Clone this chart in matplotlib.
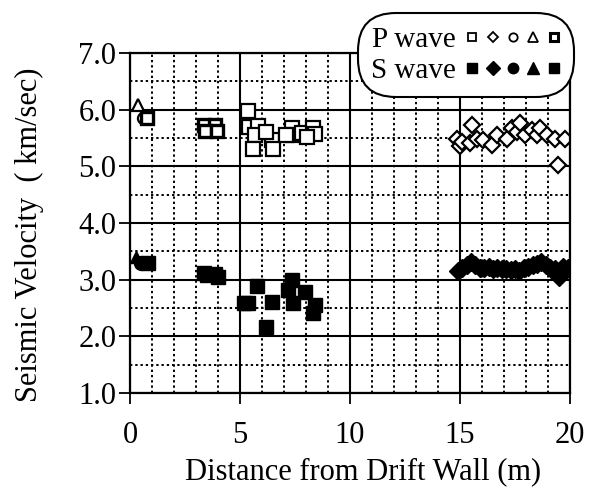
import matplotlib
matplotlib.use("Agg")
import matplotlib.pyplot as plt
from matplotlib.lines import Line2D
from matplotlib.legend_handler import HandlerTuple
from matplotlib.ticker import MultipleLocator, FormatStrFormatter

plt.rcParams["font.family"] = ["Liberation Serif", "DejaVu Serif"]

# ---- data (distance m, velocity km/s) ----
p_sq_x = [5.38, 5.41, 5.83, 5.68, 6.44, 5.6, 6.52, 7.35, 7.42, 7.8, 8.33, 8.41, 8.03, 6.2, 7.1]
p_sq_v = [5.97, 5.70, 5.71, 5.55, 5.46, 5.30, 5.30, 5.67, 5.55, 5.58, 5.67, 5.57, 5.52, 5.60, 5.55]
p_dia_x = [14.85, 15.0, 15.08, 15.45, 15.53, 15.76, 16.06, 16.44, 16.67, 17.12, 17.35, 17.58,
           17.73, 17.95, 18.26, 18.49, 18.64, 18.94, 19.32, 19.47, 19.77]
p_dia_v = [5.49, 5.35, 5.43, 5.41, 5.73, 5.49, 5.46, 5.38, 5.55, 5.49, 5.67, 5.61,
           5.76, 5.55, 5.64, 5.55, 5.67, 5.55, 5.49, 5.02, 5.49]
p_cir_x, p_cir_v = [0.6], [5.85]
p_tri_x, p_tri_v = [0.35], [6.08]
p_sq2_x = [0.75, 3.35, 3.85, 3.4, 3.95]
p_sq2_v = [5.85, 5.73, 5.73, 5.62, 5.62]

s_sq_x = [5.2, 5.38, 5.79, 6.44, 6.18, 7.35, 7.42, 7.95, 8.41, 8.33, 7.18]
s_sq_v = [2.58, 2.58, 2.88, 2.61, 2.17, 2.99, 2.58, 2.79, 2.55, 2.41, 2.82]
s_dia_x = [14.9, 15.1, 15.3, 15.5, 15.7, 15.9, 16.1, 16.3, 16.5, 16.7, 16.9, 17.1, 17.3,
           17.5, 17.7, 17.9, 18.1, 18.3, 18.5, 18.7, 18.9, 19.1, 19.3, 19.5, 19.7, 19.9]
s_dia_v = [3.15, 3.2, 3.25, 3.32, 3.25, 3.2, 3.2, 3.22, 3.18, 3.2, 3.18, 3.18, 3.17,
           3.18, 3.15, 3.2, 3.22, 3.25, 3.28, 3.32, 3.25, 3.2, 3.18, 3.05, 3.22, 3.2]
s_cir_x, s_cir_v = [0.5], [3.3]
s_tri_x, s_tri_v = [0.25], [3.4]
s_sq2_x = [0.8, 3.35, 3.85, 3.5, 4.0]
s_sq2_v = [3.3, 3.12, 3.1, 3.08, 3.05]

x_ticks = [0, 5, 10, 15, 20]
y_ticks = [1.0, 2.0, 3.0, 4.0, 5.0, 6.0, 7.0]

fig = plt.figure(figsize=(6.0, 4.94), dpi=100)
ax = fig.add_axes([0.2167, 0.2045, 0.7333, 0.6882])

open_kw = dict(ls="none", mfc="white", mec="black", mew=1.6)
fill_kw = dict(ls="none", mfc="black", mec="black", mew=1.0)

ax.plot(p_sq_x, p_sq_v, "s", ms=9.5, **open_kw)
ax.plot(p_dia_x, p_dia_v, "D", ms=8, **open_kw)
ax.plot(p_cir_x, p_cir_v, "o", ms=8, **open_kw)
ax.plot(p_tri_x, p_tri_v, "^", ms=8, **open_kw)
ax.plot(p_sq2_x, p_sq2_v, "s", ms=8.5, ls="none", mfc="white", mec="black", mew=2.4)

ax.plot(s_sq_x, s_sq_v, "s", ms=10.5, **fill_kw)
ax.plot(s_dia_x, s_dia_v, "D", ms=9.5, **fill_kw)
ax.plot(s_cir_x, s_cir_v, "o", ms=10, **fill_kw)
ax.plot(s_tri_x, s_tri_v, "^", ms=9, **fill_kw)
ax.plot(s_sq2_x, s_sq2_v, "s", ms=10, **fill_kw)

ax.set_xlim(0, 20)
ax.set_ylim(1.0, 7.0)
ax.set_xticks(x_ticks)
ax.set_yticks(y_ticks)
ax.yaxis.set_major_formatter(FormatStrFormatter("%.1f"))
ax.xaxis.set_minor_locator(MultipleLocator(1))
ax.yaxis.set_minor_locator(MultipleLocator(0.5))

ax.grid(which="major", color="black", lw=1.5, ls="-")
ax.grid(which="minor", color="black", lw=1.4, ls=(0, (1.2, 1.5)))
ax.set_axisbelow(True)

ax.tick_params(which="major", direction="out", length=8, width=1.3,
               labelsize=22, color="black")
ax.tick_params(axis="x", which="major", pad=12)
ax.tick_params(axis="y", which="major", pad=2)
ax.tick_params(which="minor", length=0)
for s in ax.spines.values():
    s.set_linewidth(1.6)

ax.set_xlabel("Distance from Drift Wall (m)", fontsize=22)
ax.xaxis.set_label_coords(0.53, -0.19)
ax.set_ylabel("Seismic Velocity  ( km/sec)", fontsize=22)
ax.yaxis.set_label_coords(-0.195, 0.465)

# ---- legend with five markers per row ----
def row(filled):
    kw = dict(ls="none", mec="black", mfc="black" if filled else "white",
              mew=1.0 if filled else 1.3)
    shapes = [("s", 5.5), ("D", 5.5), ("o", 6), ("^", 6.5), ("s", 6)]
    hs = [Line2D([], [], marker=m, ms=ms if not filled else ms + 1.5, **kw) for m, ms in shapes]
    if not filled:
        hs[-1].set_markeredgewidth(2.2)
    return tuple(hs)

leg = fig.legend([row(False), row(True)], ["P wave", "S wave"],
                 handler_map={tuple: HandlerTuple(ndivide=None, pad=0.2)},
                 loc="upper right", bbox_to_anchor=(0.945, 0.958),
                 markerfirst=False, fontsize=21, handlelength=3.3,
                 handletextpad=0.3, labelspacing=0.15, borderpad=0.2,
                 borderaxespad=0, framealpha=1, edgecolor="black", fancybox=True)
frame = leg.get_frame()
frame.set_linewidth(1.5)
frame.set_boxstyle("round", pad=0.25, rounding_size=1.3)

fig.savefig("out.png", dpi=100)
